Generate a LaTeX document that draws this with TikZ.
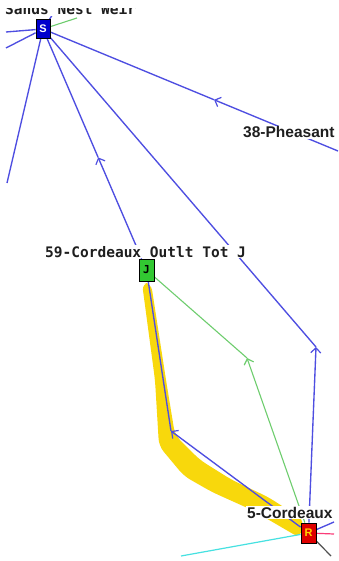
\documentclass[tikz,border=0pt]{standalone}
\usepackage{fontspec}
\setmainfont{Liberation Sans}
\newfontfamily\monob{DejaVu Sans Mono}
\usetikzlibrary{arrows.meta,calc}
\definecolor{bline}{RGB}{78,78,225}
\definecolor{gline}{RGB}{110,205,110}
\definecolor{cline}{RGB}{70,225,225}
\definecolor{pline}{RGB}{250,60,120}
\definecolor{kline}{RGB}{80,80,80}
\definecolor{yband}{RGB}{248,216,12}
\definecolor{sfill}{RGB}{0,0,205}
\definecolor{jfill}{RGB}{50,200,50}
\definecolor{rfill}{RGB}{222,0,0}
\definecolor{rtext}{RGB}{255,212,0}
\definecolor{lbltext}{RGB}{30,30,30}
\tikzset{
  blue line/.style={draw=bline,line width=1.35pt},
  green line/.style={draw=gline,line width=1.1pt},
  barb/.style={-{Straight Barb[length=5pt,width=10pt,line width=1.2pt]}},
  boxnode/.style={draw=black,line width=0.8pt,inner sep=0pt,font=\bfseries\fontsize{11}{12}\selectfont},
  monolbl/.style={fill=white,inner sep=1pt,text=lbltext,font=\monob\bfseries\fontsize{14.5}{16}\selectfont},
  sanslbl/.style={fill=white,inner sep=1pt,text=lbltext,font=\bfseries\fontsize{15.5}{17}\selectfont},
}
\begin{document}
\begin{tikzpicture}[x=1pt,y=-1pt]
\useasboundingbox (0,0) rectangle (338,561);
\fill[white] (0,0) rectangle (338,561);
% positions
\coordinate (Spos) at (43,29);
\coordinate (Jpos) at (146.5,270);
\coordinate (Rpos) at (308.5,533);
\coordinate (e1) at (6,32);
\coordinate (e2) at (6,48);
\coordinate (e3) at (7,183);
\coordinate (e4) at (53,14);
\coordinate (g1) at (77,18);
\coordinate (pE) at (338,151);
\coordinate (c1) at (181,556);
\coordinate (k1) at (331,556);
\coordinate (b1) at (334,522);
\coordinate (p1) at (334,534);
\coordinate (bR) at (316,347);
\coordinate (bG) at (247,358);
\coordinate (bB) at (171,431);
% yellow band
\fill[yband,rounded corners=7pt] (142,283) -- (151,283) -- (166,380) -- (175,435) -- (200,460) -- (232,480) -- (268,497) -- (304,520) -- (300,538) -- (252,510) -- (212,492) -- (184,476) -- (159,446) -- (155,380) -- cycle;
% node placeholders (drawn later on top)
\path (Spos) node[boxnode,minimum width=14pt,minimum height=19pt] (S) {};
\path (Jpos) node[boxnode,minimum width=15pt,minimum height=22pt] (J) {};
\path (Rpos) node[boxnode,minimum width=15pt,minimum height=20pt] (R) {};
\coordinate (aP) at ($(pE)!0.42!(Spos)$);
\coordinate (aJ) at ($(Jpos)!0.467!(Spos)$);
% lines from S
\draw[blue line] (S) -- (e1);
\draw[blue line] (S) -- (e2);
\draw[blue line] (S) -- (e3);
\draw[blue line] (S) -- (e4);
\draw[green line] (S) -- (g1);
\draw[blue line,barb] (pE) -- (aP);
\draw[blue line] (aP) -- (S);
\draw[blue line,barb] (J) -- (aJ);
\draw[blue line] (aJ) -- (S);
\draw[blue line,barb] (R) -- (bR);
\draw[blue line] (bR) -- (S);
% lines from R
\draw[blue line,barb] (R) -- (bB);
\draw[blue line] (bB) -- (J);
\draw[green line,barb] (R) -- (bG);
\draw[green line] (bG) -- (J);
\draw[draw=cline,line width=1.2pt] (R) -- (c1);
\draw[draw=kline,line width=1.2pt] (R) -- (k1);
\draw[blue line] (R) -- (b1);
\draw[draw=pline,line width=1.2pt] (R) -- (p1);
% labels
\node[monolbl,anchor=base west] (lS) at (4,15) {Sands Nest Weir};
\node[monolbl,anchor=base west] (lJ) at (44,257) {59-Cordeaux Outlt Tot J};
\node[sanslbl,anchor=base west] (lP) at (242,138) {38-Pheasant};
\node[sanslbl,anchor=base west] (lR) at (246,518) {5-Cordeaux};
% boxes
\node[boxnode,fill=sfill,text=white,minimum width=14pt,minimum height=19pt] at (Spos) {S};
\node[boxnode,fill=jfill,text=black,minimum width=15pt,minimum height=22pt,font=\monob\bfseries\fontsize{11}{12}\selectfont] at (Jpos) {J};
\node[boxnode,fill=rfill,text=rtext,minimum width=15pt,minimum height=20pt] at (Rpos) {R};
% cut-off top edge
\fill[white] (0,0) rectangle (338,8);
\end{tikzpicture}
\end{document}
